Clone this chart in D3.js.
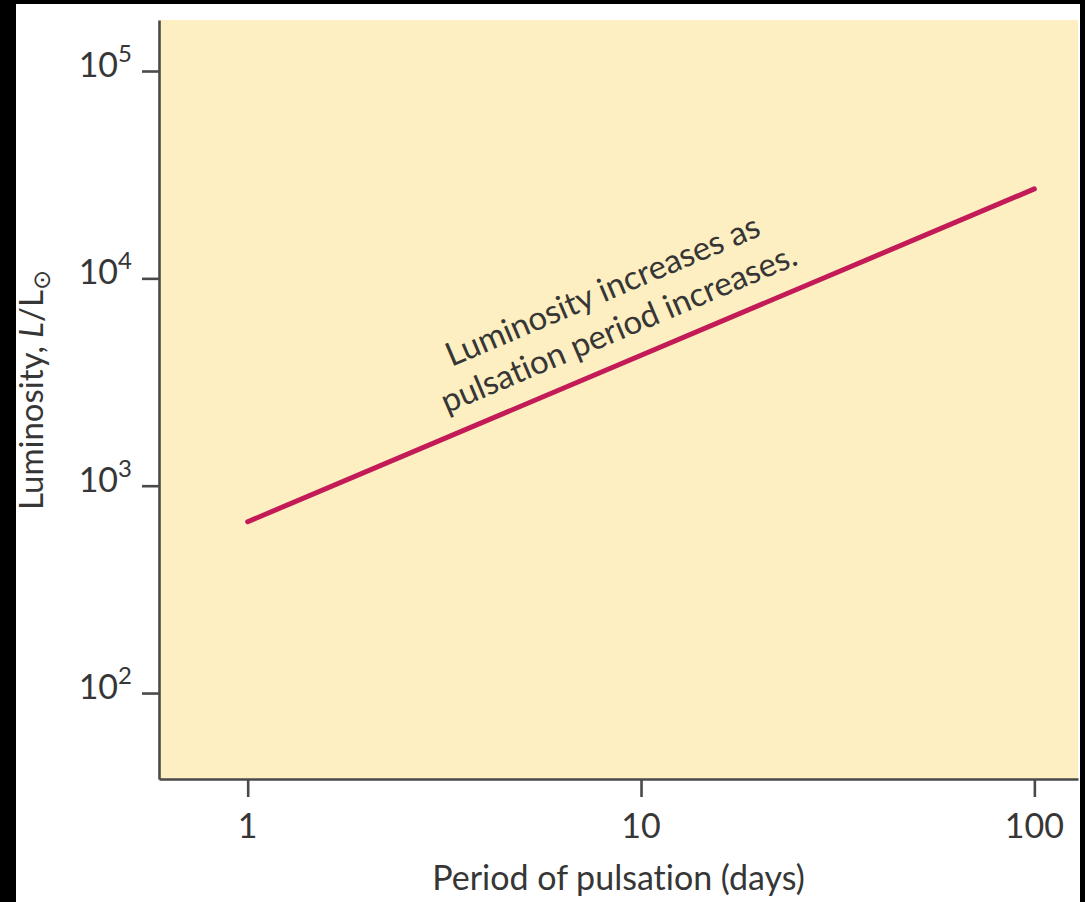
<!DOCTYPE html>
<html>
<head>
<meta charset="utf-8">
<script src="https://cdn.jsdelivr.net/npm/d3@7"></script>
<style>
  html, body { margin: 0; padding: 0; background: #000; }
  svg { display: block; }
  svg text { font-variant-ligatures: none; }
</style>
</head>
<body>
<svg id="chart" width="1085" height="902"></svg>
<script>
// Period–luminosity relation for Cepheid variables
const periodDays = [1, 100];
const luminosity = [670, 27000];

const xTickValues = [1, 10, 100];
const xTickLabels = ["1", "10", "100"];
const yTickValues = [1e2, 1e3, 1e4, 1e5];
const yTickExponents = ["2", "3", "4", "5"];

const annotationLines = ["Luminosity increases as", "pulsation period increases."];
const xTitle = "Period of pulsation (days)";

const W = 1085, H = 902;
const plot = { left: 159, right: 1078, top: 20, bottom: 779 };
const font = "Lato, 'Open Sans', sans-serif";
const ink = "#363636";
const axisInk = "#4a4a4a";

const svg = d3.select("#chart");

// page with thin black frame on top, left and right
svg.append("rect").attr("x", 16).attr("y", 4).attr("width", 1064).attr("height", H - 4).attr("fill", "#fff");

const x = d3.scaleLog().domain([0.595, 129.1]).range([plot.left, plot.right]);
const y = d3.scaleLog().domain([38.5, 176200]).range([plot.bottom, plot.top]);

// plot background
svg.append("rect")
  .attr("x", plot.left).attr("y", plot.top)
  .attr("width", plot.right - plot.left).attr("height", plot.bottom - plot.top)
  .attr("fill", "#fdefc1");

// axes
const xAxis = svg.append("g")
  .attr("transform", `translate(0,${plot.bottom})`)
  .call(d3.axisBottom(x).tickValues(xTickValues).tickSize(18).tickSizeOuter(0).tickFormat(""));
const yAxis = svg.append("g")
  .attr("transform", `translate(${plot.left},0)`)
  .call(d3.axisLeft(y).tickValues(yTickValues).tickSize(17).tickSizeOuter(0).tickFormat(""));
[xAxis, yAxis].forEach(g => {
  g.select(".domain").attr("stroke", axisInk).attr("stroke-width", 2.6);
  g.selectAll(".tick line").attr("stroke", axisInk).attr("stroke-width", 2.6);
});

// x tick labels
svg.append("g").selectAll("text")
  .data(xTickValues)
  .join("text")
  .attr("x", d => x(d))
  .attr("y", 838)
  .attr("text-anchor", "middle")
  .attr("font-family", font)
  .attr("font-size", 34)
  .attr("fill", ink)
  .text((d, i) => xTickLabels[i]);

// y tick labels as powers of ten
const yl = svg.append("g").selectAll("text")
  .data(yTickValues)
  .join("text")
  .attr("x", 132)
  .attr("y", d => y(d) + 6)
  .attr("text-anchor", "end")
  .attr("font-family", font)
  .attr("fill", ink);
yl.append("tspan").attr("font-size", 34).text("10");
yl.append("tspan").attr("font-size", 24).attr("dy", -15).text((d, i) => yTickExponents[i]);

// x axis title
svg.append("text")
  .attr("x", (plot.left + plot.right) / 2)
  .attr("y", 890)
  .attr("text-anchor", "middle")
  .attr("font-family", font)
  .attr("font-size", 34)
  .attr("fill", ink)
  .text(xTitle);

// y axis title: Luminosity, L/L⊙
const yt = svg.append("text")
  .attr("transform", "translate(43,390) rotate(-90)")
  .attr("text-anchor", "middle")
  .attr("font-family", font)
  .attr("font-size", 33)
  .attr("fill", ink);
yt.append("tspan").text("Luminosity, ");
yt.append("tspan").attr("font-style", "italic").text("L");
yt.append("tspan").text("/L");
yt.append("tspan").attr("font-family", "'DejaVu Sans', sans-serif").attr("font-size", 24).attr("dy", 7).text("\u2299");

// period–luminosity line
const pts = periodDays.map((p, i) => [p, luminosity[i]]);
svg.append("path")
  .datum(pts)
  .attr("d", d3.line().x(d => x(d[0])).y(d => y(d[1])))
  .attr("fill", "none")
  .attr("stroke", "#c21b57")
  .attr("stroke-width", 5)
  .attr("stroke-linecap", "round");

// annotation running parallel to the line
const ann = svg.append("text")
  .attr("transform", "translate(607,301) rotate(-23)")
  .attr("text-anchor", "middle")
  .attr("font-family", font)
  .attr("font-size", 33)
  .attr("fill", ink);
ann.selectAll("tspan")
  .data(annotationLines)
  .join("tspan")
  .attr("x", 0)
  .attr("y", (d, i) => i * 41)
  .text(d => d);
</script>
</body>
</html>
